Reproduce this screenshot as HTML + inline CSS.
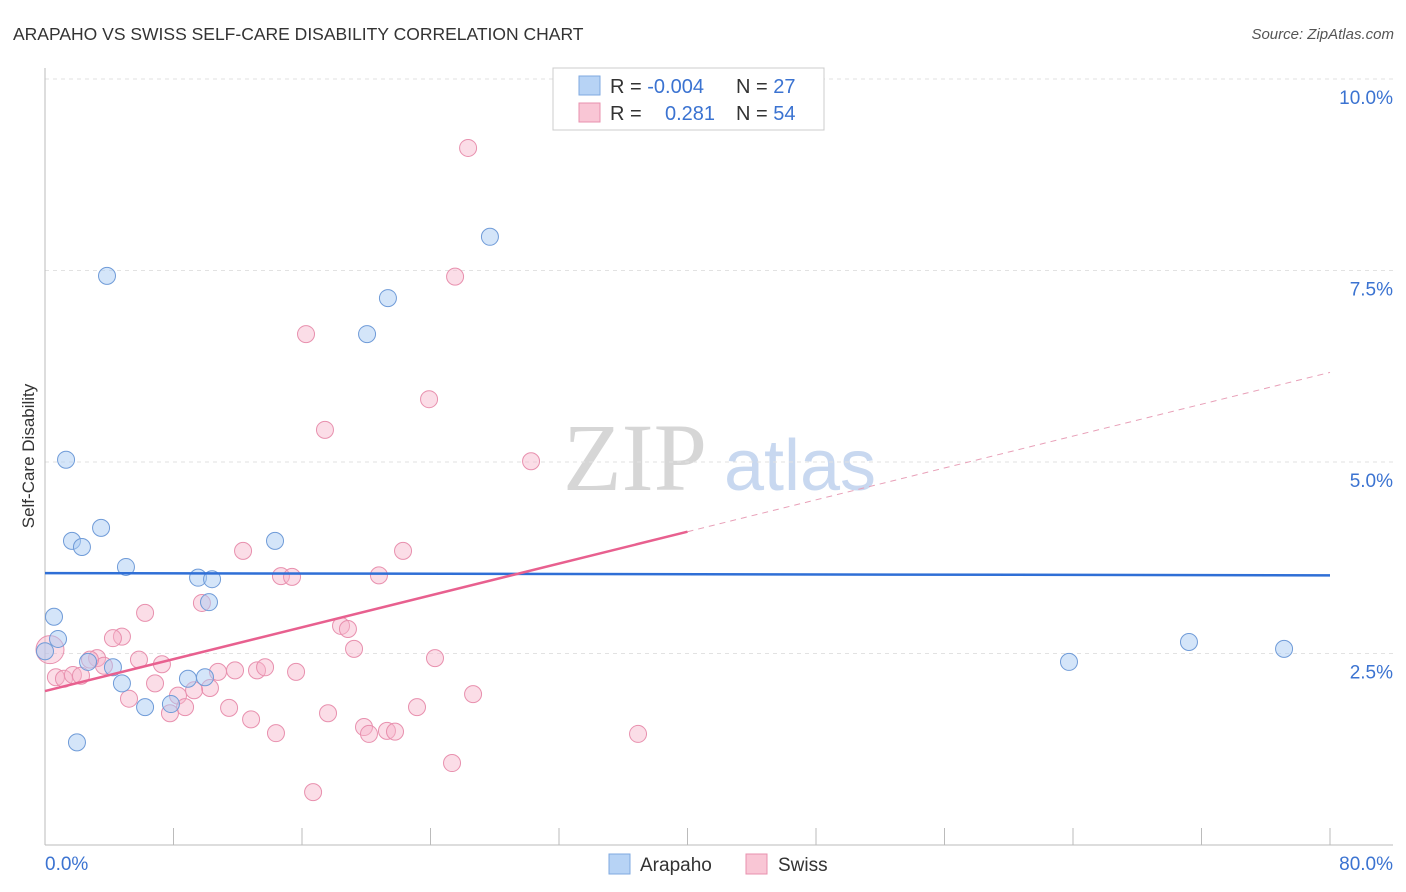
<!DOCTYPE html>
<html><head><meta charset="utf-8"><style>
body{margin:0;background:#fff;font-family:"Liberation Sans",sans-serif;}
svg{display:block}
</style></head><body>
<svg id="chart" width="1406" height="892">
<text x="13" y="40" font-size="17.5" fill="#333">ARAPAHO VS SWISS SELF-CARE DISABILITY CORRELATION CHART</text>
<text x="1394" y="39" font-size="15" fill="#555" font-style="italic" text-anchor="end">Source: ZipAtlas.com</text>
<text x="34" y="456" font-size="17" fill="#333" text-anchor="middle" transform="rotate(-90 34 456)">Self-Care Disability</text>
<g><text x="635" y="490" font-size="96" fill="#d6d6d6" font-family="Liberation Serif,serif" text-anchor="middle">ZIP</text><text x="800" y="490" font-size="72" fill="#c8d8f0" text-anchor="middle">atlas</text></g>
<g id="grid"></g><g id="axes"></g><g id="marks"></g>
<g>
<rect x="553" y="68" width="271" height="62" fill="#fff" stroke="#ccc"/>
<rect x="579" y="76" width="21" height="19" fill="#b7d3f5" stroke="#7fa9e0"/>
<rect x="579" y="103" width="21" height="19" fill="#f9c6d5" stroke="#e890ae"/>
<text x="610" y="93" font-size="20" fill="#333">R = <tspan fill="#3b73d1">-0.004</tspan></text>
<text x="736" y="93" font-size="20" fill="#333">N = <tspan fill="#3b73d1">27</tspan></text>
<text x="610" y="120" font-size="20" fill="#333">R = <tspan fill="#3b73d1" x="665">0.281</tspan></text>
<text x="736" y="120" font-size="20" fill="#333">N = <tspan fill="#3b73d1">54</tspan></text>
</g>
<g>
<rect x="609" y="854" width="21" height="20" fill="#b7d3f5" stroke="#7fa9e0"/>
<text x="640" y="871" font-size="19" fill="#333">Arapaho</text>
<rect x="746" y="854" width="21" height="20" fill="#f9c6d5" stroke="#e890ae"/>
<text x="778" y="871" font-size="19" fill="#333">Swiss</text>
</g>
</svg>
<script>
const blueX=[3.86,1.31,1.68,2.30,3.49,5.04,0.56,0.81,0,2.68,4.23,4.79,6.23,7.84,8.90,9.96,1.99,9.53,10.40,10.21,14.32,20.05,21.35,27.70,63.75,71.22,77.14];
const blueY=[7.43,5.03,3.97,3.89,4.14,3.63,2.98,2.69,2.53,2.39,2.32,2.11,1.80,1.84,2.17,2.19,1.34,3.49,3.47,3.17,3.97,6.67,7.14,7.94,2.39,2.65,2.56];
const pinkX=[26.34,25.53,16.25,23.91,17.43,30.26,12.33,22.29,14.69,15.38,20.79,6.23,9.77,18.43,18.86,4.79,4.23,19.24,24.28,3.24,5.85,7.28,3.67,10.77,11.83,13.20,13.70,15.63,0.68,1.18,1.74,2.24,6.85,8.28,10.27,9.28,5.23,26.65,8.72,11.46,7.78,12.83,17.62,23.16,19.86,20.17,21.29,21.79,14.38,36.92,25.34,16.69,0.31,2.80];
const pinkY=[9.10,7.42,6.67,5.82,5.42,5.01,3.84,3.84,3.51,3.50,3.52,3.03,3.16,2.86,2.82,2.72,2.70,2.56,2.44,2.44,2.42,2.36,2.34,2.26,2.28,2.28,2.32,2.26,2.19,2.17,2.22,2.21,2.11,1.95,2.05,2.02,1.91,1.97,1.80,1.79,1.72,1.64,1.72,1.80,1.54,1.45,1.49,1.48,1.46,1.45,1.07,0.69,2.55,2.42];
const yTicks=[2.5,5,7.5,10];
const yTickLabels=["2.5%","5.0%","7.5%","10.0%"];
const blueTrend=[3.55,3.52];
const pinkTrend=[2.01,6.17];
const xs=v=>45+v/80*1285, ys=v=>845-v*76.6;
const NS="http://www.w3.org/2000/svg";
function mk(t,a,p){const e=document.createElementNS(NS,t);for(const k in a)e.setAttribute(k,a[k]);p.appendChild(e);return e;}
const grid=document.getElementById('grid'),axes=document.getElementById('axes'),marks=document.getElementById('marks');
yTicks.forEach((t,i)=>{
 const l=mk('line',{x1:45,x2:1393,y1:ys(t),y2:ys(t),stroke:'#e2e2e2','stroke-dasharray':'4,4'},grid);
 
 
 const tx=mk('text',{x:1393,y:ys(t)+25,'font-size':19,fill:'#3b73d1','text-anchor':'end'},axes);
 tx.textContent=yTickLabels[i];
 
 
});
mk('line',{x1:45,x2:1393,y1:845,y2:845,stroke:'#bbb'},axes);
mk('line',{x1:45,x2:45,y1:68,y2:845,stroke:'#bbb'},axes);
for(let i=0;i<=10;i++){const t=mk('line',{x1:xs(i*8),x2:xs(i*8),y1:828,y2:845,stroke:'#bbb'},axes);
 
 }
[[0,"0.0%","start",45],[80,"80.0%","end",1393]].forEach(d=>{const t=mk('text',{x:d[3],y:870,'font-size':19,fill:'#3b73d1','text-anchor':d[2]},axes);t.textContent=d[1];
 
 });
pinkX.forEach((x,i)=>{const c=mk('circle',{cx:xs(x),cy:ys(pinkY[i]),r:i==52?14:8.5,fill:'rgba(247,180,202,0.45)',stroke:'#e890ae','stroke-width':1},marks);
 
 });
blueX.forEach((x,i)=>{const c=mk('circle',{cx:xs(x),cy:ys(blueY[i]),r:8.5,fill:'rgba(170,203,243,0.5)',stroke:'#6f9bd8','stroke-width':1},marks);
 
 });
const bl=mk('line',{x1:xs(0),x2:xs(80),y1:ys(blueTrend[0]),y2:ys(blueTrend[1]),stroke:'#2f6fd6','stroke-width':2.5},marks);


const pv=x=>pinkTrend[0]+(pinkTrend[1]-pinkTrend[0])*x/80;
const pl=mk('line',{x1:xs(0),x2:xs(40),y1:ys(pv(0)),y2:ys(pv(40)),stroke:'#e8608f','stroke-width':2.5},marks);


const pd=mk('line',{x1:xs(40),x2:xs(80),y1:ys(pv(40)),y2:ys(pv(80)),stroke:'#e8a0b8','stroke-width':1,'stroke-dasharray':'6,5'},marks);


</script>
</body></html>
